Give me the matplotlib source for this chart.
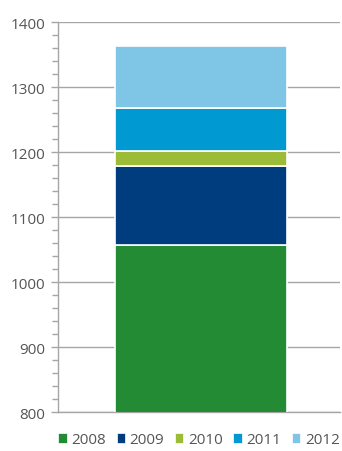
import numpy as np
import matplotlib
matplotlib.use('Agg')
import matplotlib.pyplot as plt
from matplotlib.patches import Patch
from matplotlib.ticker import MultipleLocator

years = ['2008', '2009', '2010', '2011', '2012']
values = [1057, 122, 22, 67, 95]
colors = ['#228b34', '#003d7f', '#9cbc38', '#0099d2', '#7ec5e6']
yticks = [800, 900, 1000, 1100, 1200, 1300, 1400]

plt.rcParams['font.family'] = ['Open Sans', 'DejaVu Sans']
grey = '#a6a6a6'
txt = '#555555'

fig = plt.figure(figsize=(3.42, 4.52), dpi=100)
ax = fig.add_axes([58/342, 1-413/452, 282/342, 390/452])

bottom = 0
for yr, v, c in zip(years, values, colors):
    ax.bar(0.507, v, width=0.61, bottom=bottom, color=c, edgecolor='white',
           linewidth=1.2, zorder=3, label=yr)
    bottom += v

ax.set_xlim(0, 1)
ax.set_ylim(800, 1400)
ax.set_yticks(yticks)
ax.yaxis.set_minor_locator(MultipleLocator(20))
ax.set_xticks([])
ax.grid(axis='y', color=grey, linewidth=1.0, zorder=0)
for s in ['top', 'right']:
    ax.spines[s].set_visible(False)
for s in ['left', 'bottom']:
    ax.spines[s].set_color(grey)
    ax.spines[s].set_linewidth(1.0)
ax.tick_params(axis='y', which='major', length=5, width=1.0, color=grey,
               labelsize=11, labelcolor=txt, pad=4)
ax.tick_params(axis='y', which='minor', length=4, width=1.0, color=grey)

handles = [Patch(facecolor=c, edgecolor='white', linewidth=0.5) for c in colors]
leg = fig.legend(handles, years, loc='center', bbox_to_anchor=(0.582, 1-441/452),
                 ncol=5, frameon=False, fontsize=11, handlelength=0.55,
                 handleheight=0.55, handletextpad=0.3, columnspacing=0.7,
                 borderpad=0.2)
for t in leg.get_texts():
    t.set_color(txt)

plt.savefig('out.png', dpi=100)
